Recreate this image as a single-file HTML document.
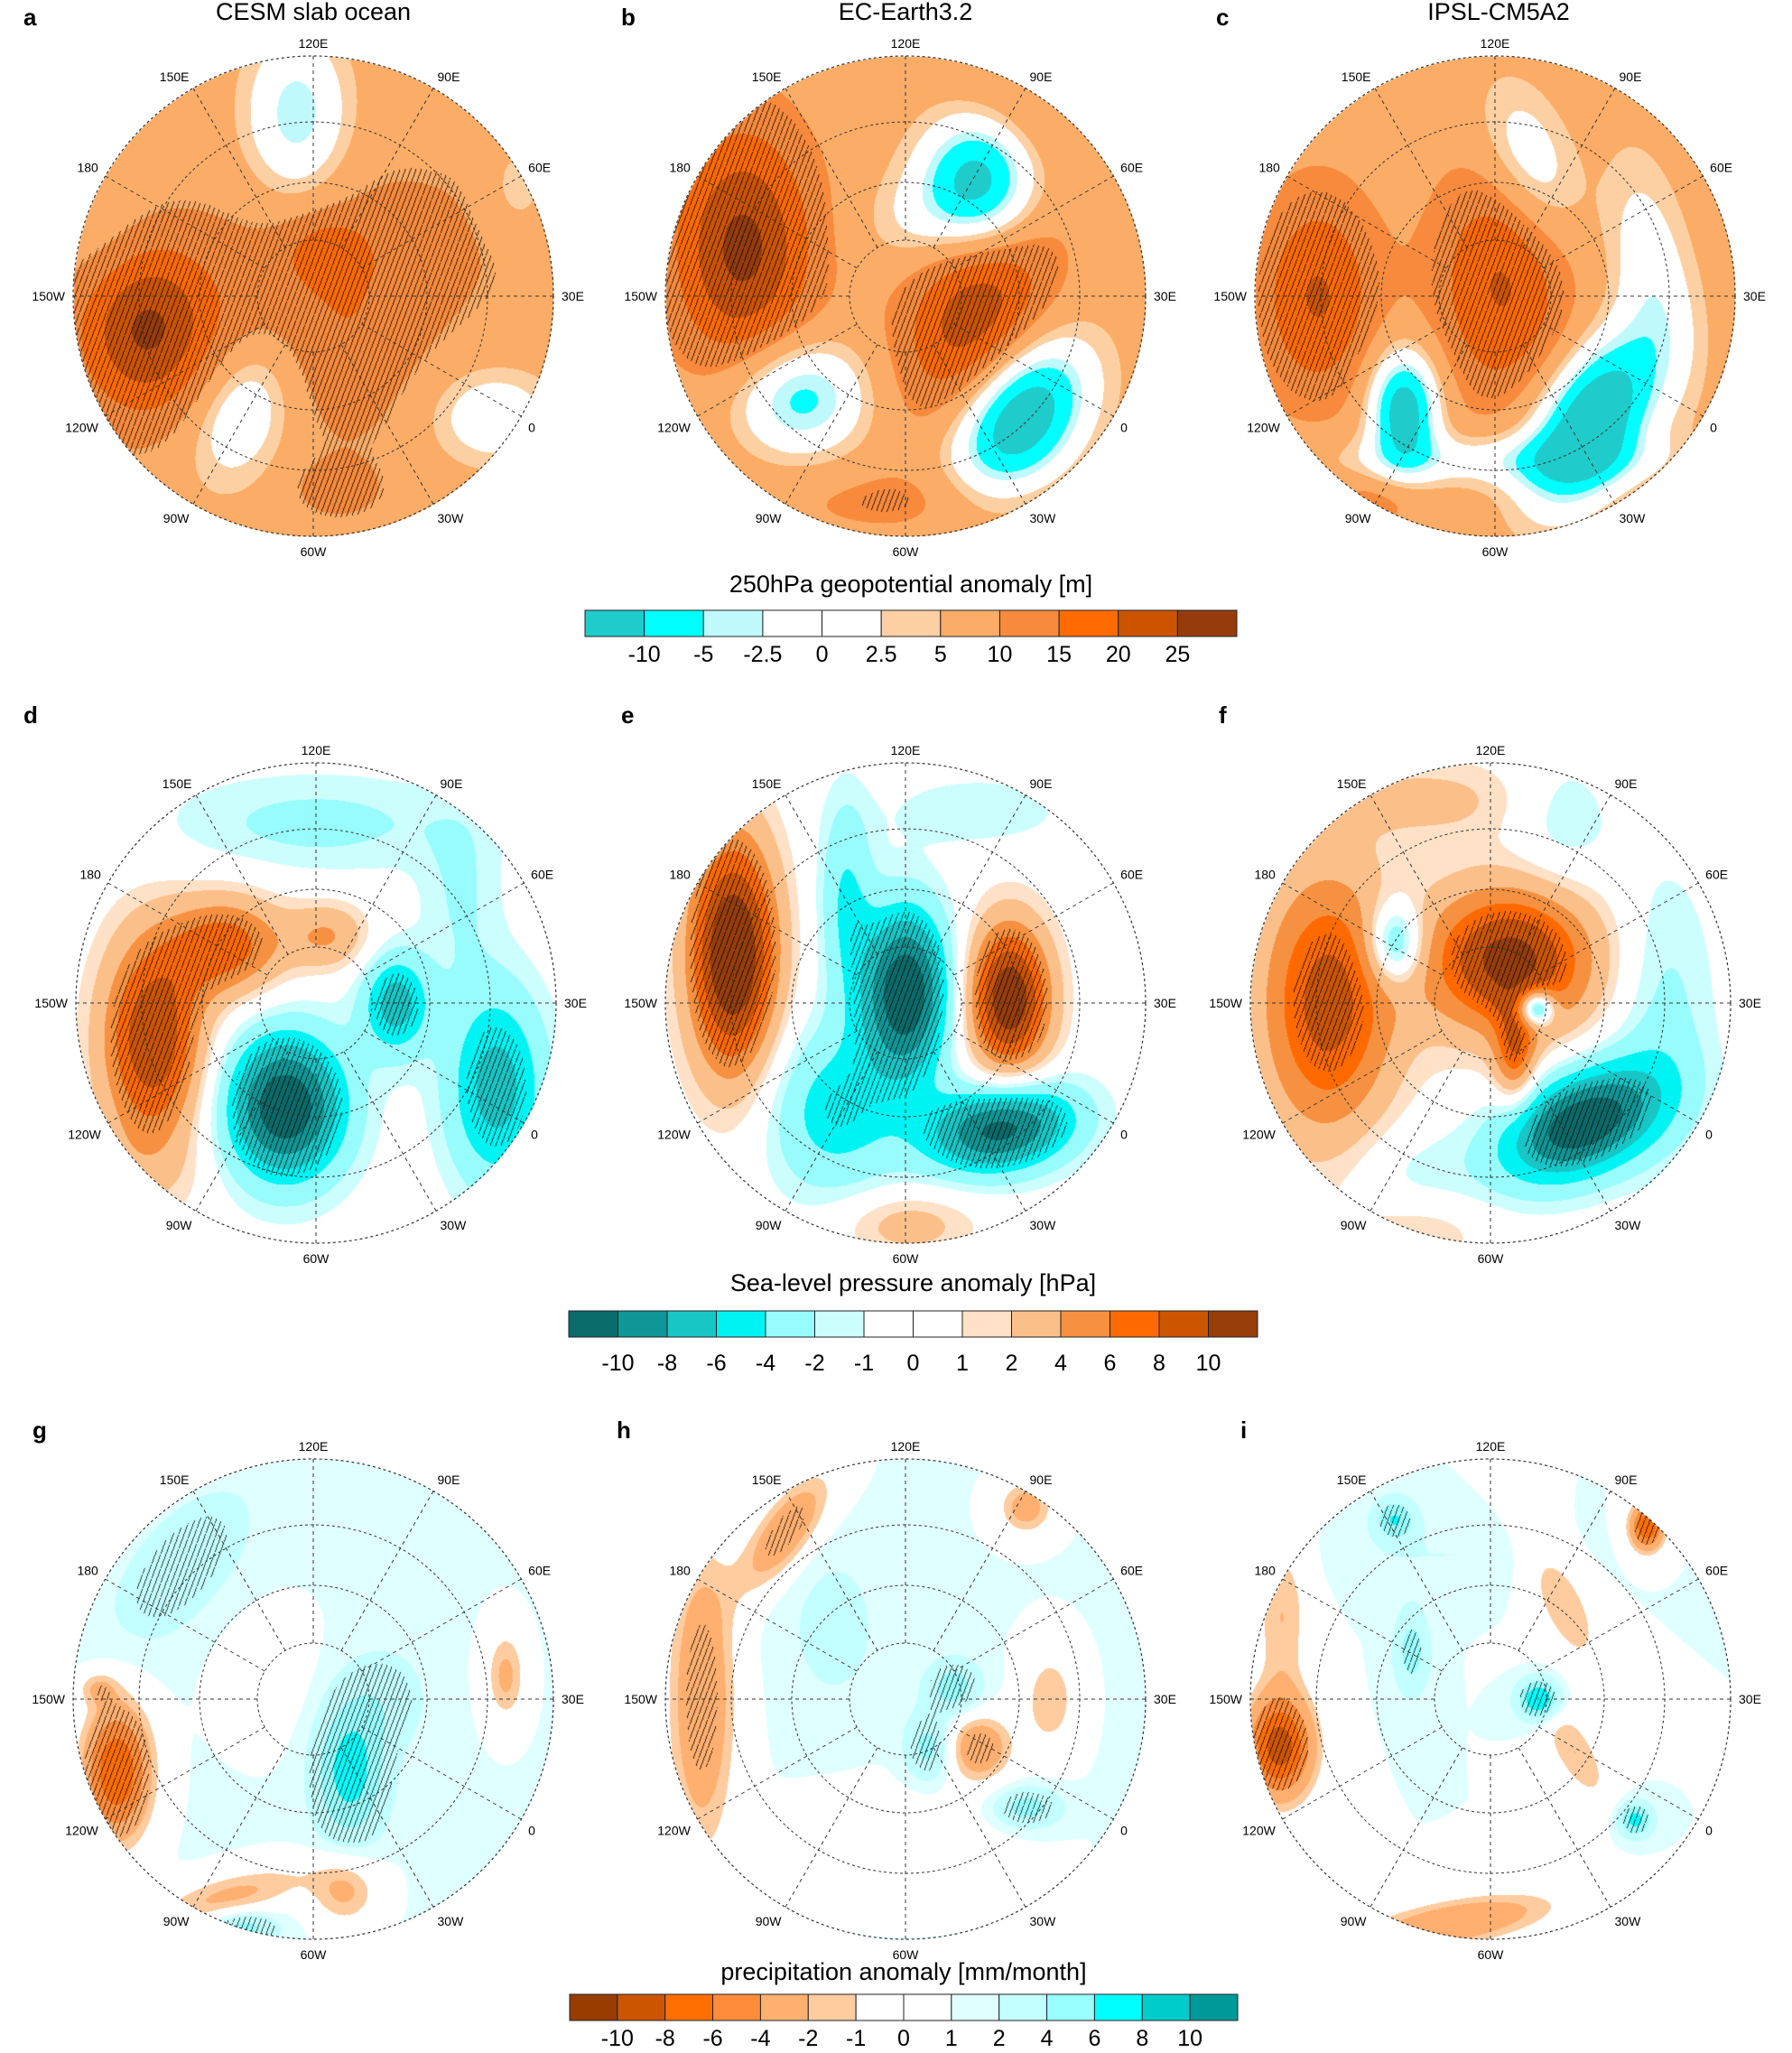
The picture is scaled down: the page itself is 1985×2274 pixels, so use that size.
<!DOCTYPE html>
<html><head><meta charset="utf-8"><style>
body{margin:0;background:#fff;width:1985px;height:2274px;position:relative;overflow:hidden;font-family:"Liberation Sans",sans-serif}
.t{position:absolute;white-space:nowrap;color:#000}
canvas{position:absolute}
</style></head><body>
<div class="t" style="left:26px;top:4px;font-size:26px;font-weight:bold">a</div>
<div class="t" style="left:688px;top:4px;font-size:26px;font-weight:bold">b</div>
<div class="t" style="left:1347px;top:4px;font-size:26px;font-weight:bold">c</div>
<div class="t" style="left:347px;top:-2px;font-size:27px;transform:translateX(-50%)">CESM slab ocean</div>
<div class="t" style="left:1003px;top:-2px;font-size:27px;transform:translateX(-50%)">EC-Earth3.2</div>
<div class="t" style="left:1660px;top:-2px;font-size:27px;transform:translateX(-50%)">IPSL-CM5A2</div>
<div class="t" style="left:26px;top:777px;font-size:26px;font-weight:bold">d</div>
<div class="t" style="left:688px;top:777px;font-size:26px;font-weight:bold">e</div>
<div class="t" style="left:1350px;top:777px;font-size:26px;font-weight:bold">f</div>
<div class="t" style="left:36px;top:1569px;font-size:26px;font-weight:bold">g</div>
<div class="t" style="left:683px;top:1569px;font-size:26px;font-weight:bold">h</div>
<div class="t" style="left:1374px;top:1569px;font-size:26px;font-weight:bold">i</div>
<svg id="ov" width="1985" height="2274" style="position:absolute;left:0;top:0;z-index:2"></svg>
<script>
const geoLevels=[-10,-5,-2.5,0,2.5,5,10,15,20,25];
const geoColors=["#1fcbcb","#00ffff","#bff9fb","#ffffff","#ffffff","#fdd0a3","#fbac66","#f78a3c","#ff6b00","#cc5400","#963c0c"];
const slpLevels=[-10,-8,-6,-4,-2,-1,0,1,2,4,6,8,10];
const slpColors=["#0a6b6b","#0f9797","#19c6c6","#00f3f3","#98fcfc","#ccfefe","#ffffff","#ffffff","#fee1c6","#fbbf8a","#f59140","#ff6a00","#cc5500","#973e0a"];
const prLevels=[-10,-8,-6,-4,-2,-1,0,1,2,4,6,8,10];
const prColors=["#983c00","#cc5500","#ff6e00","#ff8c3a","#ffb070","#ffcca0","#ffffff","#ffffff","#e0ffff","#c4ffff","#99ffff","#00ffff","#00cccc","#009999"];
const geoTickLabels=["-10","-5","-2.5","0","2.5","5","10","15","20","25"];
const slpTickLabels=["-10","-8","-6","-4","-2","-1","0","1","2","4","6","8","10"];
const prTickLabels=["-10","-8","-6","-4","-2","-1","0","1","2","4","6","8","10"];
// anomaly centres: [u, v, sx, sy, rotDeg, amplitude]
const blobsA=[[-0.7,0.14,0.2,0.25,0,17],[0.1,-0.1,0.55,0.3,-15,5],[0.15,0.25,0.2,0.3,0,4],[-0.3,0.48,0.14,0.22,20,-10],[-0.07,-0.75,0.15,0.25,0,-12],[0.75,0.5,0.18,0.14,0,-9],[0.85,-0.45,0.1,0.15,0,-5],[-0.9,-0.3,0.15,0.2,0,-3],[0.1,0.8,0.12,0.08,0,5],[0.05,-0.2,0.12,0.1,0,6]];
const blobsB=[[-0.68,-0.2,0.2,0.35,0,19],[0.3,0.05,0.2,0.35,15,17],[0.3,-0.45,0.17,0.2,0,-24],[0.47,0.5,0.17,0.25,35,-25],[-0.45,0.42,0.2,0.17,0,-15],[0.0,0.85,0.4,0.1,0,4],[0.5,-0.75,0.25,0.1,30,3],[0,-0.3,0.15,0.15,0,-4]];
const blobsC=[[-0.74,0,0.17,0.3,0,13],[0.03,-0.05,0.2,0.35,0,13],[0.4,0.52,0.15,0.27,30,-25],[-0.38,0.47,0.1,0.17,0,-22],[0.15,-0.55,0.13,0.25,-20,-10],[0.65,-0.1,0.12,0.35,-10,-8],[0.0,0.68,0.5,0.08,0,-8],[-0.5,0.85,0.15,0.08,0,5]];
const blobsD=[[-0.68,0.15,0.15,0.3,0,10],[-0.37,-0.24,0.17,0.15,0,7],[0.05,-0.28,0.12,0.1,0,4],[-0.13,0.43,0.18,0.22,0,-12],[0.33,0.0,0.1,0.15,0,-7],[0.75,0.35,0.15,0.3,0,-7],[0.0,-0.75,0.45,0.15,0,-2.5],[0.6,-0.45,0.12,0.25,0,-2],[-0.75,0.7,0.2,0.15,0,1.5]];
const blobsE=[[-0.72,-0.2,0.13,0.35,0,13],[0.0,-0.05,0.13,0.25,0,-12],[0.43,-0.02,0.12,0.22,0,12],[0.4,0.52,0.22,0.13,-10,-11],[-0.3,0.45,0.2,0.25,0,-5],[-0.25,-0.45,0.08,0.3,0,-4],[0.0,0.92,0.2,0.1,0,3],[0.3,-0.8,0.25,0.1,0,-2]];
const blobsF=[[-0.68,0.0,0.2,0.4,0,9],[0.08,-0.18,0.25,0.22,0,11],[0.1,0.22,0.06,0.14,0,6],[0.19,0.02,0.05,0.05,0,-10],[0.38,0.5,0.25,0.15,-25,-12],[-0.4,-0.25,0.08,0.12,0,-7],[0.72,0.0,0.15,0.4,0,-2.5],[-0.25,-0.85,0.3,0.12,0,2.5],[0.3,-0.75,0.15,0.2,0,-2],[-0.35,0.7,0.2,0.15,0,-1.5],[-0.3,0.95,0.2,0.1,0,2]];
const blobsG=[[-0.82,0.3,0.1,0.2,0,-9],[-0.35,0.82,0.25,0.07,-15,-3.5],[0.13,0.8,0.1,0.1,0,-3.5],[0.15,0.3,0.1,0.2,0,6],[0.3,0.0,0.12,0.15,0,2],[-0.55,-0.55,0.15,0.3,40,2],[0.8,-0.1,0.06,0.14,0,-3.5],[-0.2,-0.1,0.15,0.2,0,-1],[-0.3,0.95,0.1,0.05,0,4],[-0.9,-0.05,0.06,0.05,0,-2.5]];
const blobsH=[[-0.85,0.0,0.1,0.45,0,-5],[-0.5,-0.7,0.08,0.2,35,-5],[0.3,0.2,0.1,0.1,0,-5],[0.1,0.2,0.07,0.1,0,4],[0.5,0.45,0.1,0.06,0,4],[0.2,-0.05,0.08,0.08,0,4],[0.6,0.0,0.08,0.15,0,-3],[-0.3,-0.3,0.15,0.25,0,1.5],[0.5,-0.8,0.08,0.08,0,-4],[0.0,0.6,0.3,0.15,0,-1.5]];
const blobsI=[[-0.88,0.2,0.1,0.15,0,-10],[-0.87,-0.35,0.08,0.25,0,-3],[-0.15,0.93,0.3,0.07,-10,-5],[0.65,-0.72,0.05,0.07,0,-9],[0.3,-0.4,0.08,0.22,-25,-3],[0.35,0.22,0.07,0.18,-30,-3],[0.2,0.0,0.06,0.06,0,8],[0.6,0.5,0.05,0.05,0,6],[-0.4,-0.75,0.06,0.06,0,5],[-0.33,-0.2,0.05,0.12,0,4],[-0.2,-0.6,0.3,0.1,0,1]];
const lonValues=[120,90,60,30,0,-30,-60,-90,-120,-150,180,150];
const lonNames=["120E","90E","60E","30E","0","30W","60W","90W","120W","150W","180","150E"];

const R=266;
const panels=[
 {n:"a",cx:347,cy:328,b:blobsA,base:7.5,lv:geoLevels,col:geoColors,h:9.5,abs:false},
 {n:"b",cx:1003,cy:328,b:blobsB,base:7.5,lv:geoLevels,col:geoColors,h:11,abs:false},
 {n:"c",cx:1656,cy:328,b:blobsC,base:7.5,lv:geoLevels,col:geoColors,h:12,abs:false},
 {n:"d",cx:350,cy:1111,b:blobsD,base:0,lv:slpLevels,col:slpColors,h:5,abs:true},
 {n:"e",cx:1003,cy:1111,b:blobsE,base:0,lv:slpLevels,col:slpColors,h:5,abs:true},
 {n:"f",cx:1651,cy:1111,b:blobsF,base:0,lv:slpLevels,col:slpColors,h:7,abs:true},
 {n:"g",cx:347,cy:1882,b:blobsG,base:1.1,lv:prLevels,col:prColors,h:2.5,abs:true},
 {n:"h",cx:1003,cy:1882,b:blobsH,base:1.05,lv:prLevels,col:prColors,h:3,abs:true},
 {n:"i",cx:1651,cy:1882,b:blobsI,base:1.0,lv:prLevels,col:prColors,h:4,abs:true}
];
function hex(c){return [parseInt(c.slice(1,3),16),parseInt(c.slice(3,5),16),parseInt(c.slice(5,7),16)];}
function levelIndex(v,lv){let i=0;while(i<lv.length&&v>=lv[i])i++;return i;}
function fieldAt(u,v,p){let s=p.base;for(const b of p.b){const a=b[4]*Math.PI/180,du=u-b[0],dv=v-b[1];const x=du*Math.cos(a)+dv*Math.sin(a),y=-du*Math.sin(a)+dv*Math.cos(a);s+=b[5]*Math.exp(-0.5*(x*x/(b[2]*b[2])+y*y/(b[3]*b[3])));}return s;}
const NS="http://www.w3.org/2000/svg";
const ov=document.getElementById('ov');
function se(tag,attrs,parent){const e=document.createElementNS(NS,tag);for(const k in attrs)e.setAttribute(k,attrs[k]);(parent||ov).appendChild(e);return e;}
for(const p of panels){
 const S=2*R+2;const cv=document.createElement('canvas');cv.width=S;cv.height=S;
 cv.style.left=(p.cx-R-1)+'px';cv.style.top=(p.cy-R-1)+'px';
 
 
 document.body.appendChild(cv);
 const ctx=cv.getContext('2d');const img=ctx.createImageData(S,S);const rgb=p.col.map(hex);
 for(let y=0;y<S;y++)for(let x=0;x<S;x++){
  const u=(x-R-1)/R,v=(y-R-1)/R;if(u*u+v*v>1)continue;
  const val=fieldAt(u,v,p);const c=rgb[levelIndex(val,p.lv)];
  let k=1;const hv=p.abs?Math.abs(val):val;
  if(hv>p.h){const m=((2.7*x+y)%16+16)%16;if(m<2.6)k=0.2;}
  const o=(y*S+x)*4;img.data[o]=c[0]*k;img.data[o+1]=c[1]*k;img.data[o+2]=c[2]*k;img.data[o+3]=255;}
 ctx.putImageData(img,0,0);
 const g=se('g',{});
 
 
 for(const rr of [62,126,193])se('circle',{cx:p.cx,cy:p.cy,r:rr,fill:'none',stroke:'#333','stroke-width':1,'stroke-dasharray':'3 3'},g);
 se('circle',{cx:p.cx,cy:p.cy,r:R,fill:'none',stroke:'#333','stroke-width':1.2,'stroke-dasharray':'3 3'},g);
 for(let i=0;i<lonValues.length;i++){
  const th=(120-lonValues[i])*Math.PI/180;const dx=Math.sin(th),dy=-Math.cos(th);
  se('line',{x1:p.cx+62*dx,y1:p.cy+62*dy,x2:p.cx+R*dx,y2:p.cy+R*dy,stroke:'#333','stroke-width':1,'stroke-dasharray':'4 4'},g);
  const t=se('text',{x:p.cx+(R+9)*dx,y:p.cy+(R+9)*dy+(dy<-0.3?0:(dy>0.3?13:5)),'font-size':14,'font-family':'Liberation Sans, sans-serif','text-anchor':dx>0.3?'start':(dx<-0.3?'end':'middle')},g);
  t.textContent=lonNames[i];
  
  
 }
}
function colorbar(name,title,x0,x1,y0,h,cols,ticks,ty,tly){
 const g=se('g',{});
 
 
 const w=(x1-x0)/cols.length;
 for(let i=0;i<cols.length;i++){const r=se('rect',{x:x0+i*w,y:y0,width:w,height:h,fill:cols[i],stroke:'#222','stroke-width':1},g);
  
  }
 for(let i=0;i<ticks.length;i++){const t=se('text',{x:x0+(i+1)*w,y:tly,'font-size':25,'text-anchor':'middle','font-family':'Liberation Sans, sans-serif'},g);t.textContent=ticks[i];
  
  }
 const tt=se('text',{x:(x0+x1)/2,y:ty,'font-size':27,'text-anchor':'middle','font-family':'Liberation Sans, sans-serif'},g);tt.textContent=title;
 
 
}
colorbar('geopotential-colorbar','250hPa geopotential anomaly [m]',648,1370,676,29,geoColors,geoTickLabels,656,733);
colorbar('slp-colorbar','Sea-level pressure anomaly [hPa]',630,1393,1452,29,slpColors,slpTickLabels,1430,1518);
colorbar('precip-colorbar','precipitation anomaly [mm/month]',631,1371,2209,29,prColors,prTickLabels,2193,2266);
</script>
</body></html>
